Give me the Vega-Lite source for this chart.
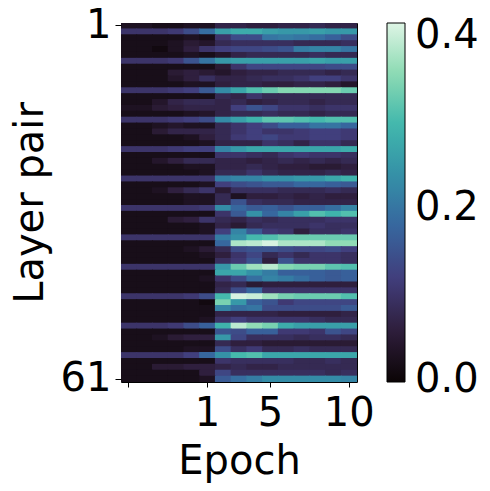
{
"$schema":"https://vega.github.io/schema/vega-lite/v6.json",
"autosize":{"type":"none"},
"padding":{"left":121,"top":23,"right":133,"bottom":109},
"width":236,"height":359,
"config":{"font":"DejaVu Sans","view":{"stroke":"black","strokeWidth":1},"axis":{"labelFont":"DejaVu Sans","titleFont":"DejaVu Sans","labelColor":"black","titleColor":"black","tickColor":"black","titleFontWeight":"normal","grid":false,"domain":false},"legend":{"labelFont":"DejaVu Sans","labelColor":"black"}},
"data":{"values":[
{"layer":1,"step":0,"v":0.03},{"layer":1,"step":1,"v":0.03},{"layer":1,"step":2,"v":0.02},{"layer":1,"step":3,"v":0.02},{"layer":1,"step":4,"v":0.03},{"layer":1,"step":5,"v":0.03},{"layer":1,"step":6,"v":0.07},{"layer":1,"step":7,"v":0.07},{"layer":1,"step":8,"v":0.06},{"layer":1,"step":9,"v":0.06},{"layer":1,"step":10,"v":0.07},{"layer":1,"step":11,"v":0.07},{"layer":1,"step":12,"v":0.08},{"layer":1,"step":13,"v":0.07},{"layer":1,"step":14,"v":0.07},
{"layer":2,"step":0,"v":0.1},{"layer":2,"step":1,"v":0.1},{"layer":2,"step":2,"v":0.1},{"layer":2,"step":3,"v":0.11},{"layer":2,"step":4,"v":0.14},{"layer":2,"step":5,"v":0.19},{"layer":2,"step":6,"v":0.26},{"layer":2,"step":7,"v":0.28},{"layer":2,"step":8,"v":0.28},{"layer":2,"step":9,"v":0.26},{"layer":2,"step":10,"v":0.25},{"layer":2,"step":11,"v":0.25},{"layer":2,"step":12,"v":0.26},{"layer":2,"step":13,"v":0.25},{"layer":2,"step":14,"v":0.25},
{"layer":3,"step":0,"v":0.02},{"layer":3,"step":1,"v":0.02},{"layer":3,"step":2,"v":0.02},{"layer":3,"step":3,"v":0.02},{"layer":3,"step":4,"v":0.03},{"layer":3,"step":5,"v":0.02},{"layer":3,"step":6,"v":0.1},{"layer":3,"step":7,"v":0.14},{"layer":3,"step":8,"v":0.14},{"layer":3,"step":9,"v":0.2},{"layer":3,"step":10,"v":0.21},{"layer":3,"step":11,"v":0.2},{"layer":3,"step":12,"v":0.19},{"layer":3,"step":13,"v":0.17},{"layer":3,"step":14,"v":0.14},
{"layer":4,"step":0,"v":0.02},{"layer":4,"step":1,"v":0.02},{"layer":4,"step":2,"v":0.02},{"layer":4,"step":3,"v":0.03},{"layer":4,"step":4,"v":0.05},{"layer":4,"step":5,"v":0.04},{"layer":4,"step":6,"v":0.08},{"layer":4,"step":7,"v":0.09},{"layer":4,"step":8,"v":0.09},{"layer":4,"step":9,"v":0.09},{"layer":4,"step":10,"v":0.09},{"layer":4,"step":11,"v":0.08},{"layer":4,"step":12,"v":0.08},{"layer":4,"step":13,"v":0.08},{"layer":4,"step":14,"v":0.09},
{"layer":5,"step":0,"v":0.02},{"layer":5,"step":1,"v":0.02},{"layer":5,"step":2,"v":0.01},{"layer":5,"step":3,"v":0.03},{"layer":5,"step":4,"v":0.06},{"layer":5,"step":5,"v":0.1},{"layer":5,"step":6,"v":0.12},{"layer":5,"step":7,"v":0.13},{"layer":5,"step":8,"v":0.13},{"layer":5,"step":9,"v":0.14},{"layer":5,"step":10,"v":0.15},{"layer":5,"step":11,"v":0.21},{"layer":5,"step":12,"v":0.22},{"layer":5,"step":13,"v":0.22},{"layer":5,"step":14,"v":0.2},
{"layer":6,"step":0,"v":0.02},{"layer":6,"step":1,"v":0.02},{"layer":6,"step":2,"v":0.02},{"layer":6,"step":3,"v":0.02},{"layer":6,"step":4,"v":0.03},{"layer":6,"step":5,"v":0.02},{"layer":6,"step":6,"v":0.04},{"layer":6,"step":7,"v":0.07},{"layer":6,"step":8,"v":0.08},{"layer":6,"step":9,"v":0.08},{"layer":6,"step":10,"v":0.08},{"layer":6,"step":11,"v":0.08},{"layer":6,"step":12,"v":0.09},{"layer":6,"step":13,"v":0.08},{"layer":6,"step":14,"v":0.08},
{"layer":7,"step":0,"v":0.1},{"layer":7,"step":1,"v":0.1},{"layer":7,"step":2,"v":0.1},{"layer":7,"step":3,"v":0.11},{"layer":7,"step":4,"v":0.15},{"layer":7,"step":5,"v":0.2},{"layer":7,"step":6,"v":0.25},{"layer":7,"step":7,"v":0.26},{"layer":7,"step":8,"v":0.26},{"layer":7,"step":9,"v":0.26},{"layer":7,"step":10,"v":0.26},{"layer":7,"step":11,"v":0.26},{"layer":7,"step":12,"v":0.27},{"layer":7,"step":13,"v":0.26},{"layer":7,"step":14,"v":0.26},
{"layer":8,"step":0,"v":0.02},{"layer":8,"step":1,"v":0.02},{"layer":8,"step":2,"v":0.02},{"layer":8,"step":3,"v":0.02},{"layer":8,"step":4,"v":0.02},{"layer":8,"step":5,"v":0.02},{"layer":8,"step":6,"v":0.05},{"layer":8,"step":7,"v":0.1},{"layer":8,"step":8,"v":0.13},{"layer":8,"step":9,"v":0.13},{"layer":8,"step":10,"v":0.13},{"layer":8,"step":11,"v":0.13},{"layer":8,"step":12,"v":0.13},{"layer":8,"step":13,"v":0.14},{"layer":8,"step":14,"v":0.14},
{"layer":9,"step":0,"v":0.02},{"layer":9,"step":1,"v":0.02},{"layer":9,"step":2,"v":0.02},{"layer":9,"step":3,"v":0.05},{"layer":9,"step":4,"v":0.06},{"layer":9,"step":5,"v":0.05},{"layer":9,"step":6,"v":0.04},{"layer":9,"step":7,"v":0.06},{"layer":9,"step":8,"v":0.07},{"layer":9,"step":9,"v":0.07},{"layer":9,"step":10,"v":0.08},{"layer":9,"step":11,"v":0.08},{"layer":9,"step":12,"v":0.08},{"layer":9,"step":13,"v":0.07},{"layer":9,"step":14,"v":0.08},
{"layer":10,"step":0,"v":0.02},{"layer":10,"step":1,"v":0.02},{"layer":10,"step":2,"v":0.02},{"layer":10,"step":3,"v":0.04},{"layer":10,"step":4,"v":0.06},{"layer":10,"step":5,"v":0.09},{"layer":10,"step":6,"v":0.07},{"layer":10,"step":7,"v":0.07},{"layer":10,"step":8,"v":0.08},{"layer":10,"step":9,"v":0.09},{"layer":10,"step":10,"v":0.09},{"layer":10,"step":11,"v":0.1},{"layer":10,"step":12,"v":0.12},{"layer":10,"step":13,"v":0.12},{"layer":10,"step":14,"v":0.1},
{"layer":11,"step":0,"v":0.02},{"layer":11,"step":1,"v":0.02},{"layer":11,"step":2,"v":0.02},{"layer":11,"step":3,"v":0.02},{"layer":11,"step":4,"v":0.03},{"layer":11,"step":5,"v":0.03},{"layer":11,"step":6,"v":0.06},{"layer":11,"step":7,"v":0.07},{"layer":11,"step":8,"v":0.07},{"layer":11,"step":9,"v":0.06},{"layer":11,"step":10,"v":0.06},{"layer":11,"step":11,"v":0.07},{"layer":11,"step":12,"v":0.07},{"layer":11,"step":13,"v":0.06},{"layer":11,"step":14,"v":0.04},
{"layer":12,"step":0,"v":0.1},{"layer":12,"step":1,"v":0.1},{"layer":12,"step":2,"v":0.1},{"layer":12,"step":3,"v":0.11},{"layer":12,"step":4,"v":0.12},{"layer":12,"step":5,"v":0.16},{"layer":12,"step":6,"v":0.23},{"layer":12,"step":7,"v":0.27},{"layer":12,"step":8,"v":0.31},{"layer":12,"step":9,"v":0.33},{"layer":12,"step":10,"v":0.35},{"layer":12,"step":11,"v":0.35},{"layer":12,"step":12,"v":0.35},{"layer":12,"step":13,"v":0.35},{"layer":12,"step":14,"v":0.33},
{"layer":13,"step":0,"v":0.02},{"layer":13,"step":1,"v":0.02},{"layer":13,"step":2,"v":0.02},{"layer":13,"step":3,"v":0.02},{"layer":13,"step":4,"v":0.02},{"layer":13,"step":5,"v":0.02},{"layer":13,"step":6,"v":0.08},{"layer":13,"step":7,"v":0.07},{"layer":13,"step":8,"v":0.1},{"layer":13,"step":9,"v":0.08},{"layer":13,"step":10,"v":0.08},{"layer":13,"step":11,"v":0.08},{"layer":13,"step":12,"v":0.08},{"layer":13,"step":13,"v":0.08},{"layer":13,"step":14,"v":0.08},
{"layer":14,"step":0,"v":0.02},{"layer":14,"step":1,"v":0.02},{"layer":14,"step":2,"v":0.04},{"layer":14,"step":3,"v":0.07},{"layer":14,"step":4,"v":0.08},{"layer":14,"step":5,"v":0.08},{"layer":14,"step":6,"v":0.07},{"layer":14,"step":7,"v":0.08},{"layer":14,"step":8,"v":0.06},{"layer":14,"step":9,"v":0.07},{"layer":14,"step":10,"v":0.08},{"layer":14,"step":11,"v":0.08},{"layer":14,"step":12,"v":0.07},{"layer":14,"step":13,"v":0.08},{"layer":14,"step":14,"v":0.08},
{"layer":15,"step":0,"v":0.03},{"layer":15,"step":1,"v":0.03},{"layer":15,"step":2,"v":0.05},{"layer":15,"step":3,"v":0.06},{"layer":15,"step":4,"v":0.07},{"layer":15,"step":5,"v":0.07},{"layer":15,"step":6,"v":0.07},{"layer":15,"step":7,"v":0.12},{"layer":15,"step":8,"v":0.15},{"layer":15,"step":9,"v":0.13},{"layer":15,"step":10,"v":0.1},{"layer":15,"step":11,"v":0.1},{"layer":15,"step":12,"v":0.09},{"layer":15,"step":13,"v":0.1},{"layer":15,"step":14,"v":0.1},
{"layer":16,"step":0,"v":0.02},{"layer":16,"step":1,"v":0.02},{"layer":16,"step":2,"v":0.02},{"layer":16,"step":3,"v":0.02},{"layer":16,"step":4,"v":0.03},{"layer":16,"step":5,"v":0.04},{"layer":16,"step":6,"v":0.07},{"layer":16,"step":7,"v":0.08},{"layer":16,"step":8,"v":0.08},{"layer":16,"step":9,"v":0.09},{"layer":16,"step":10,"v":0.08},{"layer":16,"step":11,"v":0.08},{"layer":16,"step":12,"v":0.07},{"layer":16,"step":13,"v":0.08},{"layer":16,"step":14,"v":0.08},
{"layer":17,"step":0,"v":0.1},{"layer":17,"step":1,"v":0.1},{"layer":17,"step":2,"v":0.1},{"layer":17,"step":3,"v":0.11},{"layer":17,"step":4,"v":0.12},{"layer":17,"step":5,"v":0.14},{"layer":17,"step":6,"v":0.23},{"layer":17,"step":7,"v":0.26},{"layer":17,"step":8,"v":0.29},{"layer":17,"step":9,"v":0.32},{"layer":17,"step":10,"v":0.32},{"layer":17,"step":11,"v":0.31},{"layer":17,"step":12,"v":0.3},{"layer":17,"step":13,"v":0.31},{"layer":17,"step":14,"v":0.31},
{"layer":18,"step":0,"v":0.02},{"layer":18,"step":1,"v":0.02},{"layer":18,"step":2,"v":0.03},{"layer":18,"step":3,"v":0.04},{"layer":18,"step":4,"v":0.03},{"layer":18,"step":5,"v":0.03},{"layer":18,"step":6,"v":0.08},{"layer":18,"step":7,"v":0.1},{"layer":18,"step":8,"v":0.12},{"layer":18,"step":9,"v":0.14},{"layer":18,"step":10,"v":0.17},{"layer":18,"step":11,"v":0.17},{"layer":18,"step":12,"v":0.2},{"layer":18,"step":13,"v":0.2},{"layer":18,"step":14,"v":0.18},
{"layer":19,"step":0,"v":0.02},{"layer":19,"step":1,"v":0.02},{"layer":19,"step":2,"v":0.05},{"layer":19,"step":3,"v":0.07},{"layer":19,"step":4,"v":0.07},{"layer":19,"step":5,"v":0.07},{"layer":19,"step":6,"v":0.08},{"layer":19,"step":7,"v":0.1},{"layer":19,"step":8,"v":0.12},{"layer":19,"step":9,"v":0.1},{"layer":19,"step":10,"v":0.1},{"layer":19,"step":11,"v":0.11},{"layer":19,"step":12,"v":0.12},{"layer":19,"step":13,"v":0.12},{"layer":19,"step":14,"v":0.11},
{"layer":20,"step":0,"v":0.02},{"layer":20,"step":1,"v":0.02},{"layer":20,"step":2,"v":0.02},{"layer":20,"step":3,"v":0.02},{"layer":20,"step":4,"v":0.03},{"layer":20,"step":5,"v":0.06},{"layer":20,"step":6,"v":0.08},{"layer":20,"step":7,"v":0.11},{"layer":20,"step":8,"v":0.12},{"layer":20,"step":9,"v":0.13},{"layer":20,"step":10,"v":0.11},{"layer":20,"step":11,"v":0.11},{"layer":20,"step":12,"v":0.12},{"layer":20,"step":13,"v":0.12},{"layer":20,"step":14,"v":0.11},
{"layer":21,"step":0,"v":0.02},{"layer":21,"step":1,"v":0.02},{"layer":21,"step":2,"v":0.02},{"layer":21,"step":3,"v":0.02},{"layer":21,"step":4,"v":0.02},{"layer":21,"step":5,"v":0.03},{"layer":21,"step":6,"v":0.07},{"layer":21,"step":7,"v":0.07},{"layer":21,"step":8,"v":0.07},{"layer":21,"step":9,"v":0.1},{"layer":21,"step":10,"v":0.09},{"layer":21,"step":11,"v":0.07},{"layer":21,"step":12,"v":0.1},{"layer":21,"step":13,"v":0.1},{"layer":21,"step":14,"v":0.08},
{"layer":22,"step":0,"v":0.1},{"layer":22,"step":1,"v":0.1},{"layer":22,"step":2,"v":0.1},{"layer":22,"step":3,"v":0.11},{"layer":22,"step":4,"v":0.12},{"layer":22,"step":5,"v":0.12},{"layer":22,"step":6,"v":0.22},{"layer":22,"step":7,"v":0.25},{"layer":22,"step":8,"v":0.27},{"layer":22,"step":9,"v":0.27},{"layer":22,"step":10,"v":0.27},{"layer":22,"step":11,"v":0.27},{"layer":22,"step":12,"v":0.27},{"layer":22,"step":13,"v":0.27},{"layer":22,"step":14,"v":0.28},
{"layer":23,"step":0,"v":0.02},{"layer":23,"step":1,"v":0.02},{"layer":23,"step":2,"v":0.02},{"layer":23,"step":3,"v":0.02},{"layer":23,"step":4,"v":0.02},{"layer":23,"step":5,"v":0.02},{"layer":23,"step":6,"v":0.1},{"layer":23,"step":7,"v":0.1},{"layer":23,"step":8,"v":0.09},{"layer":23,"step":9,"v":0.08},{"layer":23,"step":10,"v":0.1},{"layer":23,"step":11,"v":0.11},{"layer":23,"step":12,"v":0.1},{"layer":23,"step":13,"v":0.1},{"layer":23,"step":14,"v":0.09},
{"layer":24,"step":0,"v":0.02},{"layer":24,"step":1,"v":0.02},{"layer":24,"step":2,"v":0.04},{"layer":24,"step":3,"v":0.06},{"layer":24,"step":4,"v":0.08},{"layer":24,"step":5,"v":0.08},{"layer":24,"step":6,"v":0.07},{"layer":24,"step":7,"v":0.07},{"layer":24,"step":8,"v":0.06},{"layer":24,"step":9,"v":0.07},{"layer":24,"step":10,"v":0.08},{"layer":24,"step":11,"v":0.07},{"layer":24,"step":12,"v":0.08},{"layer":24,"step":13,"v":0.07},{"layer":24,"step":14,"v":0.08},
{"layer":25,"step":0,"v":0.02},{"layer":25,"step":1,"v":0.02},{"layer":25,"step":2,"v":0.02},{"layer":25,"step":3,"v":0.02},{"layer":25,"step":4,"v":0.03},{"layer":25,"step":5,"v":0.03},{"layer":25,"step":6,"v":0.07},{"layer":25,"step":7,"v":0.07},{"layer":25,"step":8,"v":0.08},{"layer":25,"step":9,"v":0.07},{"layer":25,"step":10,"v":0.06},{"layer":25,"step":11,"v":0.06},{"layer":25,"step":12,"v":0.05},{"layer":25,"step":13,"v":0.05},{"layer":25,"step":14,"v":0.06},
{"layer":26,"step":0,"v":0.02},{"layer":26,"step":1,"v":0.02},{"layer":26,"step":2,"v":0.02},{"layer":26,"step":3,"v":0.02},{"layer":26,"step":4,"v":0.02},{"layer":26,"step":5,"v":0.03},{"layer":26,"step":6,"v":0.08},{"layer":26,"step":7,"v":0.08},{"layer":26,"step":8,"v":0.1},{"layer":26,"step":9,"v":0.08},{"layer":26,"step":10,"v":0.07},{"layer":26,"step":11,"v":0.07},{"layer":26,"step":12,"v":0.07},{"layer":26,"step":13,"v":0.08},{"layer":26,"step":14,"v":0.07},
{"layer":27,"step":0,"v":0.1},{"layer":27,"step":1,"v":0.1},{"layer":27,"step":2,"v":0.1},{"layer":27,"step":3,"v":0.1},{"layer":27,"step":4,"v":0.1},{"layer":27,"step":5,"v":0.1},{"layer":27,"step":6,"v":0.21},{"layer":27,"step":7,"v":0.22},{"layer":27,"step":8,"v":0.22},{"layer":27,"step":9,"v":0.24},{"layer":27,"step":10,"v":0.24},{"layer":27,"step":11,"v":0.25},{"layer":27,"step":12,"v":0.25},{"layer":27,"step":13,"v":0.27},{"layer":27,"step":14,"v":0.29},
{"layer":28,"step":0,"v":0.02},{"layer":28,"step":1,"v":0.02},{"layer":28,"step":2,"v":0.02},{"layer":28,"step":3,"v":0.02},{"layer":28,"step":4,"v":0.02},{"layer":28,"step":5,"v":0.03},{"layer":28,"step":6,"v":0.12},{"layer":28,"step":7,"v":0.14},{"layer":28,"step":8,"v":0.15},{"layer":28,"step":9,"v":0.16},{"layer":28,"step":10,"v":0.16},{"layer":28,"step":11,"v":0.18},{"layer":28,"step":12,"v":0.18},{"layer":28,"step":13,"v":0.17},{"layer":28,"step":14,"v":0.16},
{"layer":29,"step":0,"v":0.02},{"layer":29,"step":1,"v":0.02},{"layer":29,"step":2,"v":0.03},{"layer":29,"step":3,"v":0.06},{"layer":29,"step":4,"v":0.08},{"layer":29,"step":5,"v":0.1},{"layer":29,"step":6,"v":0.05},{"layer":29,"step":7,"v":0.09},{"layer":29,"step":8,"v":0.09},{"layer":29,"step":9,"v":0.09},{"layer":29,"step":10,"v":0.08},{"layer":29,"step":11,"v":0.08},{"layer":29,"step":12,"v":0.08},{"layer":29,"step":13,"v":0.09},{"layer":29,"step":14,"v":0.08},
{"layer":30,"step":0,"v":0.02},{"layer":30,"step":1,"v":0.02},{"layer":30,"step":2,"v":0.02},{"layer":30,"step":3,"v":0.02},{"layer":30,"step":4,"v":0.03},{"layer":30,"step":5,"v":0.03},{"layer":30,"step":6,"v":0.08},{"layer":30,"step":7,"v":0.03},{"layer":30,"step":8,"v":0.06},{"layer":30,"step":9,"v":0.06},{"layer":30,"step":10,"v":0.07},{"layer":30,"step":11,"v":0.06},{"layer":30,"step":12,"v":0.07},{"layer":30,"step":13,"v":0.06},{"layer":30,"step":14,"v":0.06},
{"layer":31,"step":0,"v":0.02},{"layer":31,"step":1,"v":0.02},{"layer":31,"step":2,"v":0.02},{"layer":31,"step":3,"v":0.02},{"layer":31,"step":4,"v":0.03},{"layer":31,"step":5,"v":0.03},{"layer":31,"step":6,"v":0.08},{"layer":31,"step":7,"v":0.15},{"layer":31,"step":8,"v":0.09},{"layer":31,"step":9,"v":0.08},{"layer":31,"step":10,"v":0.08},{"layer":31,"step":11,"v":0.07},{"layer":31,"step":12,"v":0.07},{"layer":31,"step":13,"v":0.07},{"layer":31,"step":14,"v":0.07},
{"layer":32,"step":0,"v":0.1},{"layer":32,"step":1,"v":0.1},{"layer":32,"step":2,"v":0.1},{"layer":32,"step":3,"v":0.1},{"layer":32,"step":4,"v":0.1},{"layer":32,"step":5,"v":0.11},{"layer":32,"step":6,"v":0.23},{"layer":32,"step":7,"v":0.18},{"layer":32,"step":8,"v":0.16},{"layer":32,"step":9,"v":0.17},{"layer":32,"step":10,"v":0.15},{"layer":32,"step":11,"v":0.17},{"layer":32,"step":12,"v":0.17},{"layer":32,"step":13,"v":0.19},{"layer":32,"step":14,"v":0.22},
{"layer":33,"step":0,"v":0.02},{"layer":33,"step":1,"v":0.02},{"layer":33,"step":2,"v":0.02},{"layer":33,"step":3,"v":0.02},{"layer":33,"step":4,"v":0.02},{"layer":33,"step":5,"v":0.02},{"layer":33,"step":6,"v":0.1},{"layer":33,"step":7,"v":0.16},{"layer":33,"step":8,"v":0.24},{"layer":33,"step":9,"v":0.18},{"layer":33,"step":10,"v":0.22},{"layer":33,"step":11,"v":0.26},{"layer":33,"step":12,"v":0.31},{"layer":33,"step":13,"v":0.29},{"layer":33,"step":14,"v":0.31},
{"layer":34,"step":0,"v":0.02},{"layer":34,"step":1,"v":0.02},{"layer":34,"step":2,"v":0.02},{"layer":34,"step":3,"v":0.05},{"layer":34,"step":4,"v":0.06},{"layer":34,"step":5,"v":0.1},{"layer":34,"step":6,"v":0.08},{"layer":34,"step":7,"v":0.07},{"layer":34,"step":8,"v":0.09},{"layer":34,"step":9,"v":0.08},{"layer":34,"step":10,"v":0.09},{"layer":34,"step":11,"v":0.09},{"layer":34,"step":12,"v":0.09},{"layer":34,"step":13,"v":0.1},{"layer":34,"step":14,"v":0.1},
{"layer":35,"step":0,"v":0.02},{"layer":35,"step":1,"v":0.02},{"layer":35,"step":2,"v":0.02},{"layer":35,"step":3,"v":0.02},{"layer":35,"step":4,"v":0.02},{"layer":35,"step":5,"v":0.03},{"layer":35,"step":6,"v":0.07},{"layer":35,"step":7,"v":0.05},{"layer":35,"step":8,"v":0.08},{"layer":35,"step":9,"v":0.09},{"layer":35,"step":10,"v":0.09},{"layer":35,"step":11,"v":0.09},{"layer":35,"step":12,"v":0.1},{"layer":35,"step":13,"v":0.09},{"layer":35,"step":14,"v":0.09},
{"layer":36,"step":0,"v":0.02},{"layer":36,"step":1,"v":0.02},{"layer":36,"step":2,"v":0.02},{"layer":36,"step":3,"v":0.02},{"layer":36,"step":4,"v":0.02},{"layer":36,"step":5,"v":0.03},{"layer":36,"step":6,"v":0.12},{"layer":36,"step":7,"v":0.22},{"layer":36,"step":8,"v":0.16},{"layer":36,"step":9,"v":0.11},{"layer":36,"step":10,"v":0.1},{"layer":36,"step":11,"v":0.06},{"layer":36,"step":12,"v":0.09},{"layer":36,"step":13,"v":0.09},{"layer":36,"step":14,"v":0.1},
{"layer":37,"step":0,"v":0.1},{"layer":37,"step":1,"v":0.1},{"layer":37,"step":2,"v":0.1},{"layer":37,"step":3,"v":0.1},{"layer":37,"step":4,"v":0.1},{"layer":37,"step":5,"v":0.1},{"layer":37,"step":6,"v":0.21},{"layer":37,"step":7,"v":0.24},{"layer":37,"step":8,"v":0.3},{"layer":37,"step":9,"v":0.31},{"layer":37,"step":10,"v":0.33},{"layer":37,"step":11,"v":0.33},{"layer":37,"step":12,"v":0.33},{"layer":37,"step":13,"v":0.33},{"layer":37,"step":14,"v":0.33},
{"layer":38,"step":0,"v":0.02},{"layer":38,"step":1,"v":0.02},{"layer":38,"step":2,"v":0.02},{"layer":38,"step":3,"v":0.02},{"layer":38,"step":4,"v":0.02},{"layer":38,"step":5,"v":0.02},{"layer":38,"step":6,"v":0.18},{"layer":38,"step":7,"v":0.38},{"layer":38,"step":8,"v":0.39},{"layer":38,"step":9,"v":0.41},{"layer":38,"step":10,"v":0.38},{"layer":38,"step":11,"v":0.38},{"layer":38,"step":12,"v":0.38},{"layer":38,"step":13,"v":0.36},{"layer":38,"step":14,"v":0.36},
{"layer":39,"step":0,"v":0.02},{"layer":39,"step":1,"v":0.02},{"layer":39,"step":2,"v":0.02},{"layer":39,"step":3,"v":0.02},{"layer":39,"step":4,"v":0.03},{"layer":39,"step":5,"v":0.05},{"layer":39,"step":6,"v":0.08},{"layer":39,"step":7,"v":0.14},{"layer":39,"step":8,"v":0.15},{"layer":39,"step":9,"v":0.15},{"layer":39,"step":10,"v":0.14},{"layer":39,"step":11,"v":0.13},{"layer":39,"step":12,"v":0.13},{"layer":39,"step":13,"v":0.14},{"layer":39,"step":14,"v":0.12},
{"layer":40,"step":0,"v":0.02},{"layer":40,"step":1,"v":0.02},{"layer":40,"step":2,"v":0.02},{"layer":40,"step":3,"v":0.02},{"layer":40,"step":4,"v":0.02},{"layer":40,"step":5,"v":0.03},{"layer":40,"step":6,"v":0.06},{"layer":40,"step":7,"v":0.1},{"layer":40,"step":8,"v":0.13},{"layer":40,"step":9,"v":0.08},{"layer":40,"step":10,"v":0.1},{"layer":40,"step":11,"v":0.08},{"layer":40,"step":12,"v":0.1},{"layer":40,"step":13,"v":0.1},{"layer":40,"step":14,"v":0.09},
{"layer":41,"step":0,"v":0.02},{"layer":41,"step":1,"v":0.02},{"layer":41,"step":2,"v":0.02},{"layer":41,"step":3,"v":0.02},{"layer":41,"step":4,"v":0.02},{"layer":41,"step":5,"v":0.02},{"layer":41,"step":6,"v":0.09},{"layer":41,"step":7,"v":0.11},{"layer":41,"step":8,"v":0.15},{"layer":41,"step":9,"v":0.06},{"layer":41,"step":10,"v":0.15},{"layer":41,"step":11,"v":0.1},{"layer":41,"step":12,"v":0.1},{"layer":41,"step":13,"v":0.1},{"layer":41,"step":14,"v":0.09},
{"layer":42,"step":0,"v":0.1},{"layer":42,"step":1,"v":0.1},{"layer":42,"step":2,"v":0.1},{"layer":42,"step":3,"v":0.1},{"layer":42,"step":4,"v":0.1},{"layer":42,"step":5,"v":0.1},{"layer":42,"step":6,"v":0.25},{"layer":42,"step":7,"v":0.33},{"layer":42,"step":8,"v":0.37},{"layer":42,"step":9,"v":0.39},{"layer":42,"step":10,"v":0.35},{"layer":42,"step":11,"v":0.34},{"layer":42,"step":12,"v":0.34},{"layer":42,"step":13,"v":0.32},{"layer":42,"step":14,"v":0.31},
{"layer":43,"step":0,"v":0.02},{"layer":43,"step":1,"v":0.02},{"layer":43,"step":2,"v":0.02},{"layer":43,"step":3,"v":0.02},{"layer":43,"step":4,"v":0.02},{"layer":43,"step":5,"v":0.02},{"layer":43,"step":6,"v":0.27},{"layer":43,"step":7,"v":0.27},{"layer":43,"step":8,"v":0.24},{"layer":43,"step":9,"v":0.21},{"layer":43,"step":10,"v":0.17},{"layer":43,"step":11,"v":0.17},{"layer":43,"step":12,"v":0.17},{"layer":43,"step":13,"v":0.16},{"layer":43,"step":14,"v":0.17},
{"layer":44,"step":0,"v":0.02},{"layer":44,"step":1,"v":0.02},{"layer":44,"step":2,"v":0.02},{"layer":44,"step":3,"v":0.02},{"layer":44,"step":4,"v":0.02},{"layer":44,"step":5,"v":0.03},{"layer":44,"step":6,"v":0.1},{"layer":44,"step":7,"v":0.14},{"layer":44,"step":8,"v":0.19},{"layer":44,"step":9,"v":0.22},{"layer":44,"step":10,"v":0.21},{"layer":44,"step":11,"v":0.19},{"layer":44,"step":12,"v":0.17},{"layer":44,"step":13,"v":0.16},{"layer":44,"step":14,"v":0.17},
{"layer":45,"step":0,"v":0.02},{"layer":45,"step":1,"v":0.02},{"layer":45,"step":2,"v":0.02},{"layer":45,"step":3,"v":0.02},{"layer":45,"step":4,"v":0.02},{"layer":45,"step":5,"v":0.02},{"layer":45,"step":6,"v":0.07},{"layer":45,"step":7,"v":0.08},{"layer":45,"step":8,"v":0.05},{"layer":45,"step":9,"v":0.06},{"layer":45,"step":10,"v":0.06},{"layer":45,"step":11,"v":0.06},{"layer":45,"step":12,"v":0.06},{"layer":45,"step":13,"v":0.06},{"layer":45,"step":14,"v":0.06},
{"layer":46,"step":0,"v":0.02},{"layer":46,"step":1,"v":0.02},{"layer":46,"step":2,"v":0.02},{"layer":46,"step":3,"v":0.02},{"layer":46,"step":4,"v":0.02},{"layer":46,"step":5,"v":0.02},{"layer":46,"step":6,"v":0.08},{"layer":46,"step":7,"v":0.14},{"layer":46,"step":8,"v":0.18},{"layer":46,"step":9,"v":0.1},{"layer":46,"step":10,"v":0.1},{"layer":46,"step":11,"v":0.1},{"layer":46,"step":12,"v":0.1},{"layer":46,"step":13,"v":0.1},{"layer":46,"step":14,"v":0.1},
{"layer":47,"step":0,"v":0.1},{"layer":47,"step":1,"v":0.1},{"layer":47,"step":2,"v":0.1},{"layer":47,"step":3,"v":0.1},{"layer":47,"step":4,"v":0.11},{"layer":47,"step":5,"v":0.14},{"layer":47,"step":6,"v":0.3},{"layer":47,"step":7,"v":0.41},{"layer":47,"step":8,"v":0.4},{"layer":47,"step":9,"v":0.37},{"layer":47,"step":10,"v":0.34},{"layer":47,"step":11,"v":0.33},{"layer":47,"step":12,"v":0.33},{"layer":47,"step":13,"v":0.33},{"layer":47,"step":14,"v":0.31},
{"layer":48,"step":0,"v":0.02},{"layer":48,"step":1,"v":0.02},{"layer":48,"step":2,"v":0.02},{"layer":48,"step":3,"v":0.02},{"layer":48,"step":4,"v":0.02},{"layer":48,"step":5,"v":0.01},{"layer":48,"step":6,"v":0.34},{"layer":48,"step":7,"v":0.25},{"layer":48,"step":8,"v":0.17},{"layer":48,"step":9,"v":0.15},{"layer":48,"step":10,"v":0.11},{"layer":48,"step":11,"v":0.13},{"layer":48,"step":12,"v":0.13},{"layer":48,"step":13,"v":0.13},{"layer":48,"step":14,"v":0.13},
{"layer":49,"step":0,"v":0.02},{"layer":49,"step":1,"v":0.02},{"layer":49,"step":2,"v":0.02},{"layer":49,"step":3,"v":0.02},{"layer":49,"step":4,"v":0.02},{"layer":49,"step":5,"v":0.02},{"layer":49,"step":6,"v":0.22},{"layer":49,"step":7,"v":0.19},{"layer":49,"step":8,"v":0.2},{"layer":49,"step":9,"v":0.14},{"layer":49,"step":10,"v":0.14},{"layer":49,"step":11,"v":0.14},{"layer":49,"step":12,"v":0.14},{"layer":49,"step":13,"v":0.14},{"layer":49,"step":14,"v":0.16},
{"layer":50,"step":0,"v":0.02},{"layer":50,"step":1,"v":0.02},{"layer":50,"step":2,"v":0.02},{"layer":50,"step":3,"v":0.02},{"layer":50,"step":4,"v":0.02},{"layer":50,"step":5,"v":0.02},{"layer":50,"step":6,"v":0.07},{"layer":50,"step":7,"v":0.07},{"layer":50,"step":8,"v":0.07},{"layer":50,"step":9,"v":0.07},{"layer":50,"step":10,"v":0.06},{"layer":50,"step":11,"v":0.06},{"layer":50,"step":12,"v":0.06},{"layer":50,"step":13,"v":0.06},{"layer":50,"step":14,"v":0.07},
{"layer":51,"step":0,"v":0.02},{"layer":51,"step":1,"v":0.02},{"layer":51,"step":2,"v":0.02},{"layer":51,"step":3,"v":0.02},{"layer":51,"step":4,"v":0.02},{"layer":51,"step":5,"v":0.03},{"layer":51,"step":6,"v":0.1},{"layer":51,"step":7,"v":0.12},{"layer":51,"step":8,"v":0.1},{"layer":51,"step":9,"v":0.1},{"layer":51,"step":10,"v":0.1},{"layer":51,"step":11,"v":0.1},{"layer":51,"step":12,"v":0.09},{"layer":51,"step":13,"v":0.08},{"layer":51,"step":14,"v":0.08},
{"layer":52,"step":0,"v":0.1},{"layer":52,"step":1,"v":0.1},{"layer":52,"step":2,"v":0.1},{"layer":52,"step":3,"v":0.11},{"layer":52,"step":4,"v":0.14},{"layer":52,"step":5,"v":0.17},{"layer":52,"step":6,"v":0.29},{"layer":52,"step":7,"v":0.39},{"layer":52,"step":8,"v":0.36},{"layer":52,"step":9,"v":0.34},{"layer":52,"step":10,"v":0.28},{"layer":52,"step":11,"v":0.26},{"layer":52,"step":12,"v":0.26},{"layer":52,"step":13,"v":0.26},{"layer":52,"step":14,"v":0.26},
{"layer":53,"step":0,"v":0.02},{"layer":53,"step":1,"v":0.02},{"layer":53,"step":2,"v":0.02},{"layer":53,"step":3,"v":0.02},{"layer":53,"step":4,"v":0.02},{"layer":53,"step":5,"v":0.02},{"layer":53,"step":6,"v":0.15},{"layer":53,"step":7,"v":0.14},{"layer":53,"step":8,"v":0.17},{"layer":53,"step":9,"v":0.17},{"layer":53,"step":10,"v":0.11},{"layer":53,"step":11,"v":0.11},{"layer":53,"step":12,"v":0.1},{"layer":53,"step":13,"v":0.15},{"layer":53,"step":14,"v":0.13},
{"layer":54,"step":0,"v":0.02},{"layer":54,"step":1,"v":0.02},{"layer":54,"step":2,"v":0.03},{"layer":54,"step":3,"v":0.05},{"layer":54,"step":4,"v":0.06},{"layer":54,"step":5,"v":0.06},{"layer":54,"step":6,"v":0.25},{"layer":54,"step":7,"v":0.13},{"layer":54,"step":8,"v":0.09},{"layer":54,"step":9,"v":0.09},{"layer":54,"step":10,"v":0.09},{"layer":54,"step":11,"v":0.08},{"layer":54,"step":12,"v":0.09},{"layer":54,"step":13,"v":0.09},{"layer":54,"step":14,"v":0.08},
{"layer":55,"step":0,"v":0.02},{"layer":55,"step":1,"v":0.02},{"layer":55,"step":2,"v":0.02},{"layer":55,"step":3,"v":0.02},{"layer":55,"step":4,"v":0.02},{"layer":55,"step":5,"v":0.02},{"layer":55,"step":6,"v":0.08},{"layer":55,"step":7,"v":0.06},{"layer":55,"step":8,"v":0.06},{"layer":55,"step":9,"v":0.05},{"layer":55,"step":10,"v":0.05},{"layer":55,"step":11,"v":0.05},{"layer":55,"step":12,"v":0.05},{"layer":55,"step":13,"v":0.05},{"layer":55,"step":14,"v":0.05},
{"layer":56,"step":0,"v":0.02},{"layer":56,"step":1,"v":0.02},{"layer":56,"step":2,"v":0.02},{"layer":56,"step":3,"v":0.02},{"layer":56,"step":4,"v":0.03},{"layer":56,"step":5,"v":0.03},{"layer":56,"step":6,"v":0.14},{"layer":56,"step":7,"v":0.09},{"layer":56,"step":8,"v":0.11},{"layer":56,"step":9,"v":0.08},{"layer":56,"step":10,"v":0.08},{"layer":56,"step":11,"v":0.09},{"layer":56,"step":12,"v":0.08},{"layer":56,"step":13,"v":0.08},{"layer":56,"step":14,"v":0.08},
{"layer":57,"step":0,"v":0.1},{"layer":57,"step":1,"v":0.1},{"layer":57,"step":2,"v":0.1},{"layer":57,"step":3,"v":0.1},{"layer":57,"step":4,"v":0.12},{"layer":57,"step":5,"v":0.18},{"layer":57,"step":6,"v":0.24},{"layer":57,"step":7,"v":0.3},{"layer":57,"step":8,"v":0.31},{"layer":57,"step":9,"v":0.27},{"layer":57,"step":10,"v":0.27},{"layer":57,"step":11,"v":0.27},{"layer":57,"step":12,"v":0.27},{"layer":57,"step":13,"v":0.27},{"layer":57,"step":14,"v":0.27},
{"layer":58,"step":0,"v":0.02},{"layer":58,"step":1,"v":0.02},{"layer":58,"step":2,"v":0.02},{"layer":58,"step":3,"v":0.02},{"layer":58,"step":4,"v":0.02},{"layer":58,"step":5,"v":0.02},{"layer":58,"step":6,"v":0.1},{"layer":58,"step":7,"v":0.09},{"layer":58,"step":8,"v":0.09},{"layer":58,"step":9,"v":0.09},{"layer":58,"step":10,"v":0.09},{"layer":58,"step":11,"v":0.08},{"layer":58,"step":12,"v":0.08},{"layer":58,"step":13,"v":0.09},{"layer":58,"step":14,"v":0.08},
{"layer":59,"step":0,"v":0.02},{"layer":59,"step":1,"v":0.02},{"layer":59,"step":2,"v":0.05},{"layer":59,"step":3,"v":0.05},{"layer":59,"step":4,"v":0.06},{"layer":59,"step":5,"v":0.06},{"layer":59,"step":6,"v":0.07},{"layer":59,"step":7,"v":0.08},{"layer":59,"step":8,"v":0.07},{"layer":59,"step":9,"v":0.07},{"layer":59,"step":10,"v":0.08},{"layer":59,"step":11,"v":0.08},{"layer":59,"step":12,"v":0.08},{"layer":59,"step":13,"v":0.08},{"layer":59,"step":14,"v":0.08},
{"layer":60,"step":0,"v":0.02},{"layer":60,"step":1,"v":0.02},{"layer":60,"step":2,"v":0.02},{"layer":60,"step":3,"v":0.02},{"layer":60,"step":4,"v":0.02},{"layer":60,"step":5,"v":0.06},{"layer":60,"step":6,"v":0.13},{"layer":60,"step":7,"v":0.09},{"layer":60,"step":8,"v":0.09},{"layer":60,"step":9,"v":0.09},{"layer":60,"step":10,"v":0.09},{"layer":60,"step":11,"v":0.09},{"layer":60,"step":12,"v":0.09},{"layer":60,"step":13,"v":0.08},{"layer":60,"step":14,"v":0.09},
{"layer":61,"step":0,"v":0.02},{"layer":61,"step":1,"v":0.02},{"layer":61,"step":2,"v":0.02},{"layer":61,"step":3,"v":0.02},{"layer":61,"step":4,"v":0.02},{"layer":61,"step":5,"v":0.03},{"layer":61,"step":6,"v":0.16},{"layer":61,"step":7,"v":0.19},{"layer":61,"step":8,"v":0.21},{"layer":61,"step":9,"v":0.23},{"layer":61,"step":10,"v":0.23},{"layer":61,"step":11,"v":0.23},{"layer":61,"step":12,"v":0.23},{"layer":61,"step":13,"v":0.23},{"layer":61,"step":14,"v":0.22}
]},
"mark":{"type":"rect","width":{"band":1.06},"height":{"band":1.16},"clip":true},
"encoding":{
"x":{"field":"step","type":"ordinal","scale":{"paddingInner":0,"paddingOuter":0},"axis":{"values":[0,5,9,14],"labelExpr":"datum.value == 5 ? '1' : datum.value == 9 ? '5' : datum.value == 14 ? '10' : ''","labelAngle":0,"labelFontSize":40,"labelPadding":6,"tickSize":5,"labelOverlap":false,"title":"Epoch","titleFontSize":40,"titlePadding":8}},
"y":{"field":"layer","type":"ordinal","scale":{"paddingInner":0,"paddingOuter":0},"axis":{"values":[1,61],"labelFontSize":40,"labelPadding":4,"tickSize":6,"labelOverlap":false,"title":"Layer pair","titleFontSize":40,"titlePadding":10}},
"color":{"field":"v","type":"quantitative","scale":{"domain":[-0.002,0.415],"range":["#0B0405","#2E1E3B","#413D7B","#37659E","#348FA7","#40B7AD","#8BDAB2","#DEF5E5"],"interpolate":"rgb"},"legend":{"type":"gradient","orient":"none","legendX":266,"legendY":0,"direction":"vertical","gradientLength":359,"gradientThickness":18,"values":[0,0.2,0.4],"format":".1f","labelFontSize":40,"labelOffset":10,"labelBaseline":"middle","labelOverlap":false,"gradientStrokeColor":"black","gradientStrokeWidth":1,"title":null}}
}
}
